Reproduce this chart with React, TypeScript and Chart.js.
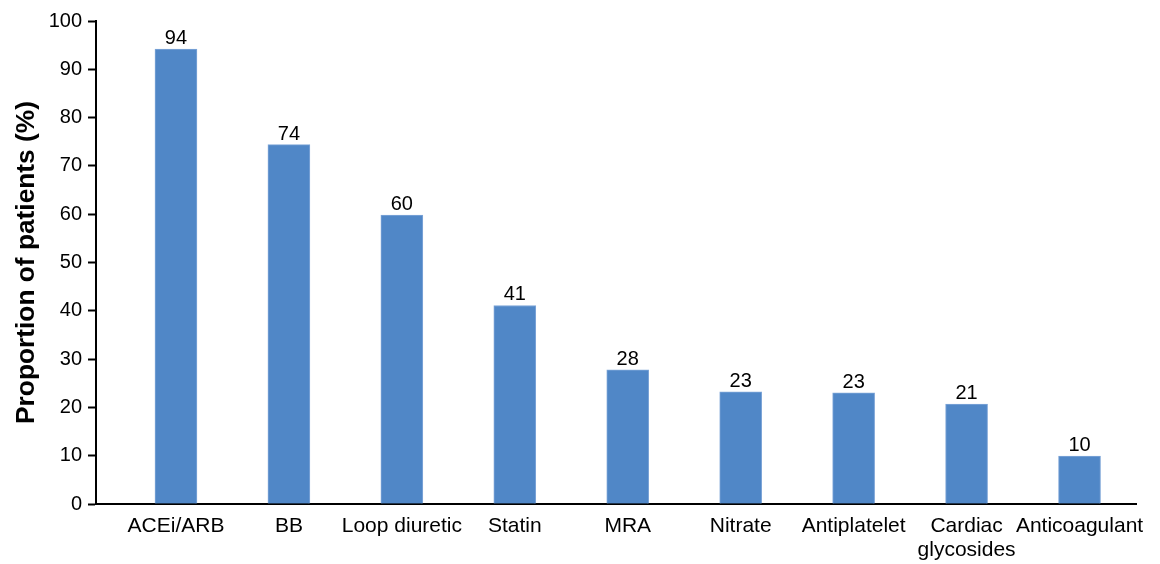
import React, { useEffect, useRef } from "react";
import { Chart, registerables } from "chart.js";

Chart.register(...registerables);

const categories: (string | string[])[] = [
  "ACEi/ARB",
  "BB",
  "Loop diuretic",
  "Statin",
  "MRA",
  "Nitrate",
  "Antiplatelet",
  ["Cardiac", "glycosides"],
  "Anticoagulant",
];
const values: number[] = [94.2, 74.4, 59.8, 41.1, 27.8, 23.2, 23.0, 20.7, 9.9];
const valueLabels: string[] = ["94", "74", "60", "41", "28", "23", "23", "21", "10"];
const yTicks: number[] = [0, 10, 20, 30, 40, 50, 60, 70, 80, 90, 100];

const FONT = "'Liberation Sans', Arial, Helvetica, sans-serif";

const valueLabelPlugin = {
  id: "valueLabels",
  afterDatasetsDraw(chart: any) {
    const ctx = chart.ctx;
    const meta = chart.getDatasetMeta(0);
    ctx.save();
    ctx.font = `20px ${FONT}`;
    ctx.fillStyle = "#000";
    ctx.textAlign = "center";
    ctx.textBaseline = "alphabetic";
    meta.data.forEach((el: any, i: number) => {
      ctx.fillText(valueLabels[i], el.x, el.y - 5);
    });
    ctx.restore();
  },
};

export default function App() {
  const ref = useRef<HTMLCanvasElement>(null);
  useEffect(() => {
    if (!ref.current) return;
    const chart = new Chart(ref.current, {
      type: "bar",
      data: {
        datasets: [
          {
            data: values.map((v, i) => ({ x: i, y: v })),
            backgroundColor: "#5087C7",
            borderColor: "#7FA6D8",
            borderWidth: 1,
            barThickness: 42,
          },
        ],
      },
      plugins: [valueLabelPlugin],
      options: {
        animation: false,
        responsive: true,
        maintainAspectRatio: false,
        layout: { padding: { left: 0, right: 24, top: 21, bottom: 0 } },
        plugins: { legend: { display: false }, tooltip: { enabled: false } },
        scales: {
          x: {
            type: "linear",
            offset: false,
            min: -0.708,
            max: 8.5,
            grid: { display: false, drawTicks: false, offset: false },
            border: { display: true, color: "#000", width: 2 },
            afterBuildTicks: (scale: any) => {
              scale.ticks = categories.map((_, i) => ({ value: i }));
            },
            afterFit: (scale: any) => {
              scale.height = 60;
            },
            ticks: {
              autoSkip: false,
              maxRotation: 0,
              minRotation: 0,
              padding: 10,
              color: "#000",
              font: { family: FONT, size: 21, lineHeight: 1.14 },
              callback: (value: any) => categories[value as number] ?? "",
            },
          },
          y: {
            min: 0,
            max: 100,
            afterBuildTicks: (scale: any) => {
              scale.ticks = yTicks.map((v) => ({ value: v }));
            },
            afterFit: (scale: any) => {
              scale.width = 96;
            },
            grid: {
              display: true,
              drawOnChartArea: false,
              drawTicks: true,
              tickLength: 8,
              tickWidth: 2,
              tickColor: "#000",
            },
            border: { display: true, color: "#000", width: 2 },
            ticks: {
              padding: 6,
              color: "#000",
              font: { family: FONT, size: 20 },
            },
            title: {
              display: true,
              text: "Proportion of patients (%)",
              color: "#000",
              font: { family: FONT, size: 26.3, weight: "bold" },
              padding: { top: 11, bottom: 0 },
            },
          },
        },
      },
    } as any);
    return () => chart.destroy();
  }, []);
  return (
    <div style={{ position: "fixed", left: 0, top: 0, width: 1160, height: 564, background: "#fff" }}>
      <canvas ref={ref} />
    </div>
  );
}
